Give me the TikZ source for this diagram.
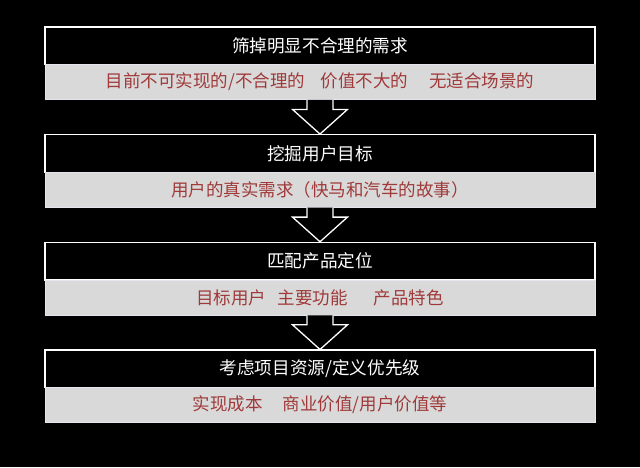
\documentclass[tikz,border=0pt]{standalone}
\usepackage{fontspec}
\setmainfont{Noto Sans CJK SC}
\usetikzlibrary{calc}
\definecolor{subgray}{RGB}{217,217,217}
\definecolor{subedge}{RGB}{228,230,238}
\definecolor{subred}{RGB}{160,58,58}
\tikzset{
  hdr/.style={draw=white, line width=1.3pt, fill=black, text=white,
    minimum width=550pt, minimum height=37.5pt, inner sep=0pt,
    font=\fontsize{17.6}{20}\selectfont},
  sub/.style={draw=subedge, line width=0.8pt, fill=subgray, text=subred,
    minimum width=550pt, minimum height=35pt, inner sep=0pt,
    font=\fontsize{17.5}{20}\selectfont},
  downarrow/.style={draw=white, line width=1.3pt, fill=black, line join=miter}
}
\begin{document}
\begin{tikzpicture}[x=1pt,y=-1pt]
\fill[black] (0,0) rectangle (640,467);
\useasboundingbox (0,0) rectangle (640,467);

\node[hdr] (h1) at (320,45.75) {筛掉明显不合理的需求};
\node[sub] (s1) at (320,82) {目前不可实现的/不合理的\hspace{0.9em}价值不大的\hspace{1.2em}无适合场景的};

\node[hdr] (h2) at (320,153.45) {挖掘用户目标};
\node[sub] (s2) at (320,189.7) {用户的真实需求（快马和汽车的故事）};

\node[hdr] (h3) at (320,261.15) {匹配产品定位};
\node[sub] (s3) at (320,297.4) {目标用户\hspace{0.65em}主要功能\hspace{1.5em}产品特色};

\node[hdr] (h4) at (320,368.85) {考虑项目资源/定义优先级};
\node[sub] (s4) at (320,405.1) {实现成本\hspace{1.15em}商业价值/用户价值等};

\foreach \a/\b in {s1/h2, s2/h3, s3/h4}{
  \draw[downarrow] ($(\a.south)+(-13,0)$) -- ++(0,9.5) -- ++(-14.5,0)
    -- (\b.north) -- ($(\a.south)+(27.5,9.5)$) -- ++(-14.5,0) -- ++(0,-9.5);
}
\end{tikzpicture}
\end{document}
